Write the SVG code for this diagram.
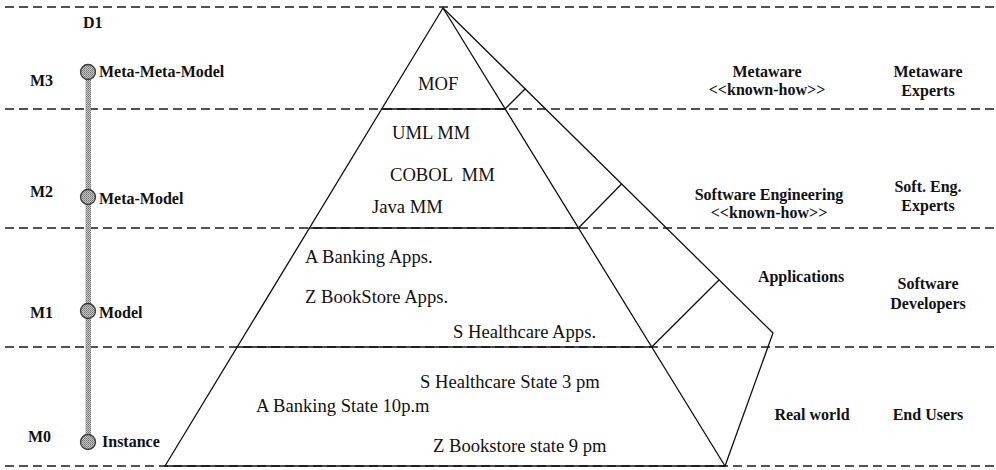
<svg xmlns="http://www.w3.org/2000/svg" width="996" height="470" viewBox="0 0 996 470">
  <style>
    .bg { fill: #ffffff; }
    .dash { stroke: #1a1a1a; stroke-width: 1.5; stroke-dasharray: 9 5; fill: none; }
    .edge { stroke: #111111; stroke-width: 1.3; fill: none; stroke-linecap: round; }
    .lbl { font-family: "Liberation Serif", "Times New Roman", serif; font-weight: bold; font-size: 16px; fill: #111111; }
    .mid { text-anchor: middle; }
    .inner { font-family: "Liberation Serif", "Times New Roman", serif; font-size: 18.6px; fill: #111111; }
    .dot { fill: url(#stipple); stroke: #3a3a3a; stroke-width: 1.3; }
  </style>
  <defs>
    <!-- fine grey stipple used by the level bar and its markers -->
    <pattern id="stipple" width="2" height="2" patternUnits="userSpaceOnUse">
      <rect width="2" height="2" fill="#c8c8c8"/>
      <rect width="1" height="1" fill="#6e6e6e"/>
      <rect x="1" y="1" width="1" height="1" fill="#8a8a8a"/>
    </pattern>
  </defs>

  <rect class="bg" width="996" height="470"/>

  <!-- level separators -->
  <g id="separators">
    <line class="dash" x1="5" y1="7" x2="996" y2="7"/>
    <line class="dash" x1="5" y1="109" x2="996" y2="109"/>
    <line class="dash" x1="5" y1="228" x2="996" y2="228"/>
    <line class="dash" x1="5" y1="347" x2="996" y2="347"/>
    <line class="dash" x1="5" y1="466" x2="996" y2="466"/>
  </g>

  <!-- pyramid -->
  <g id="pyramid">
    <line class="edge" x1="443" y1="8" x2="165" y2="466"/>
    <line class="edge" x1="443" y1="8" x2="725" y2="466"/>
    <polyline class="edge" points="443,8 773,333 725,466"/>
    <line class="edge" x1="382" y1="109" x2="505" y2="109"/>
    <line class="edge" x1="309" y1="228" x2="578.5" y2="228"/>
    <line class="edge" x1="237" y1="347" x2="651.7" y2="347"/>
    <line class="edge" x1="165" y1="466" x2="725" y2="466"/>
    <!-- ticks between the front and side faces -->
    <line class="edge" x1="505" y1="109" x2="525" y2="89"/>
    <line class="edge" x1="578.5" y1="228" x2="621.5" y2="184"/>
    <line class="edge" x1="651.7" y1="347" x2="719" y2="280"/>
  </g>

  <text class="lbl" x="83" y="28">D1</text>

  <!-- vertical level bar -->
  <g id="connectors">
    <rect x="85.5" y="72" width="5.5" height="370" fill="url(#stipple)"/>
  </g>

  <g id="level-m3">
    <text class="lbl" x="30" y="86">M3</text>
    <circle class="dot" cx="88" cy="72" r="7.5"/>
    <text class="lbl" x="99" y="77">Meta-Meta-Model</text>
    <text class="inner" x="418" y="90">MOF</text>
    <text class="lbl mid" x="767" y="77">Metaware</text>
    <text class="lbl mid" x="767" y="95">&lt;&lt;known-how&gt;&gt;</text>
    <text class="lbl mid" x="928" y="77">Metaware</text>
    <text class="lbl mid" x="928" y="96">Experts</text>
  </g>

  <g id="level-m2">
    <text class="lbl" x="30" y="197">M2</text>
    <circle class="dot" cx="88" cy="197" r="7.5"/>
    <text class="lbl" x="99" y="204">Meta-Model</text>
    <text class="inner" x="392" y="139">UML MM</text>
    <text class="inner" x="390" y="181" xml:space="preserve">COBOL  MM</text>
    <text class="inner" x="372" y="213">Java MM</text>
    <text class="lbl mid" x="769" y="200">Software Engineering</text>
    <text class="lbl mid" x="769" y="218">&lt;&lt;known-how&gt;&gt;</text>
    <text class="lbl mid" x="928" y="192">Soft. Eng.</text>
    <text class="lbl mid" x="928" y="211">Experts</text>
  </g>

  <g id="level-m1">
    <text class="lbl" x="30" y="318">M1</text>
    <circle class="dot" cx="88" cy="311" r="7.5"/>
    <text class="lbl" x="99" y="318">Model</text>
    <text class="inner" x="305" y="263">A Banking Apps.</text>
    <text class="inner" x="305" y="303">Z BookStore Apps.</text>
    <text class="inner" x="453" y="338">S Healthcare Apps.</text>
    <text class="lbl mid" x="801" y="282">Applications</text>
    <text class="lbl mid" x="928" y="289">Software</text>
    <text class="lbl mid" x="928" y="309">Developers</text>
  </g>

  <g id="level-m0">
    <text class="lbl" x="28" y="442">M0</text>
    <circle class="dot" cx="88" cy="442" r="7.5"/>
    <text class="lbl" x="102" y="447">Instance</text>
    <text class="inner" x="420" y="388">S Healthcare State 3 pm</text>
    <text class="inner" x="256" y="412">A Banking State 10p.m</text>
    <text class="inner" x="433" y="452">Z Bookstore state 9 pm</text>
    <text class="lbl mid" x="812" y="420">Real world</text>
    <text class="lbl mid" x="928" y="420">End Users</text>
  </g>
</svg>
